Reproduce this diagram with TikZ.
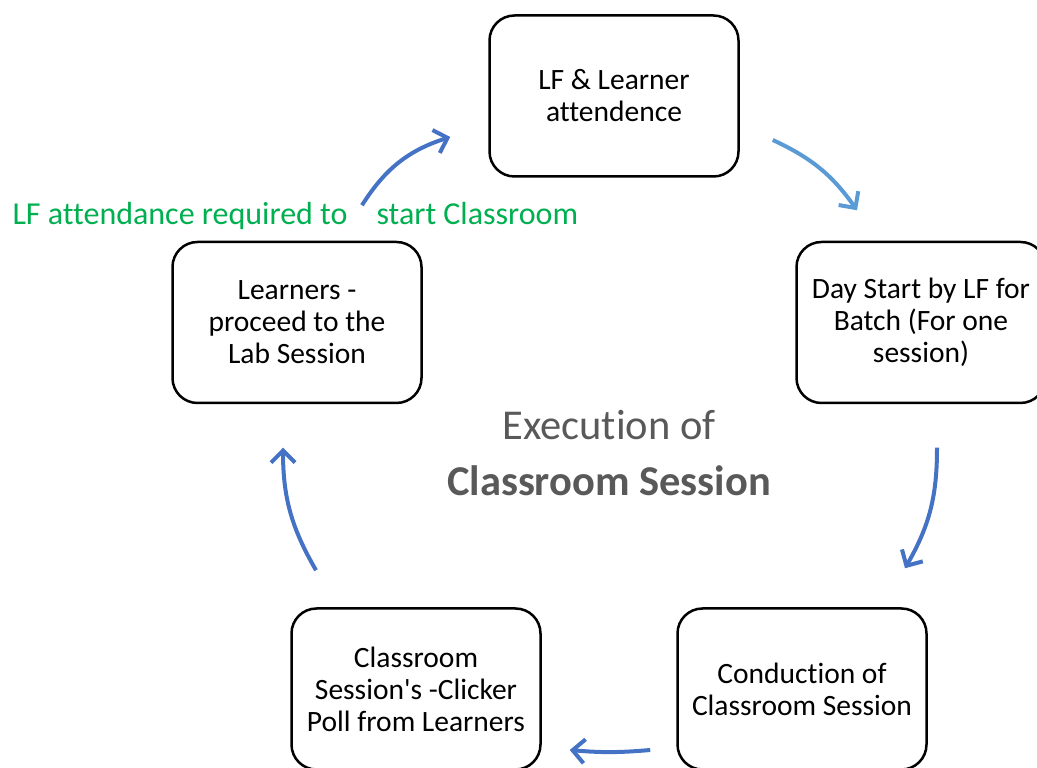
\documentclass[tikz,border=0pt]{standalone}
\usepackage{fontspec}
\setmainfont{Carlito}[Ligatures={NoCommon}]
\usepackage{xcolor}
\usetikzlibrary{positioning}
\usetikzlibrary{shapes,arrows.meta}
\definecolor{flowblue}{HTML}{4472C4}
\definecolor{flowlight}{HTML}{5B9BD5}
\definecolor{lfgreen}{HTML}{00B050}
\definecolor{titlegray}{HTML}{595959}

\begin{document}
\begin{tikzpicture}[x=1pt,y=1pt,
  stage/.style={draw, line width=2.5pt, rounded corners=25pt, minimum width=249pt,
    minimum height=161pt, align=center, font=\fontsize{29.5}{32}\selectfont},
  flow/.style={flowblue, line width=4pt, -{Straight Barb[length=12pt,width=24pt]}}]
  \clip (0,0) rectangle (1037,768);
  \node(attend) [stage] at (614,672) {LF \& Learner\\attendence};
  \node(daystart) [stage] at (921,445.5) {Day Start by LF for\\Batch (For one\\session)};
  \node(conduct) [stage] at (802,79) {Conduction of\\Classroom Session};
  \node(clicker) [stage] at (416,79) {Classroom\\Session\textquotesingle s -Clicker\\Poll from Learners};
  \node(lab) [stage] at (297,445.5) {Learners -\\proceed to the\\Lab Session};
  \node(title) [align=center, text=titlegray, font=\fontsize{42.5}{56}\selectfont] at (609,315)
    {Execution of\\\textbf{Classroom Session}};
  \node(note) [anchor=west, text=lfgreen, font=\fontsize{32}{36}\selectfont] at (9,552)
    {LF attendance required to\hspace{29pt}start Classroom};
  \draw[flow] ([shift={(65,35.5)}]lab.north) to[bend left=20] ([shift={(-38,-41)}]attend.west);
  \draw[flow, flowlight] ([shift={(33,-44)}]attend.east) to[bend left=15] ([shift={(-64,30.5)}]daystart.north);
  \draw[flow] ([shift={(16,-43.5)}]daystart.south) to[bend left=15] ([shift={(103,39)}]conduct.north);
  \draw[flow] ([shift={(-26,-61)}]conduct.west) to[bend left=5] ([shift={(28,-61)}]clicker.east);
  \draw[flow] ([shift={(-100,37)}]clicker.north) to[bend left=15] ([shift={(-14,-43.5)}]lab.south);
\end{tikzpicture}
\end{document}
